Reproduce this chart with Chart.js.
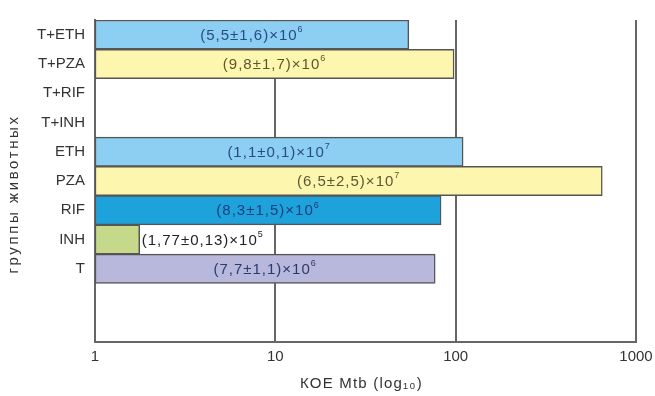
<!DOCTYPE html>
<html lang="ru">
<head>
  <meta charset="UTF-8">
  <title>КОЕ Mtb по группам животных</title>
  <script src="https://cdn.jsdelivr.net/npm/chart.js@4.4.0/dist/chart.umd.min.js"></script>
  <style>
    html, body { margin: 0; padding: 0; background: #fff; }
    #wrap { width: 655px; height: 396px; }
  </style>
</head>
<body>
  <div id="wrap"><canvas id="chart"></canvas></div>
  <script>
    // rows top to bottom; last two rows are empty in the original
    const groups = ['T+ETH', 'T+PZA', 'T+RIF', 'T+INH', 'ETH', 'PZA', 'RIF', 'INH', 'T', '', ''];
    // КОЕ / 10^5, bar length on log axis
    const cfu = [55, 98, null, null, 110, 650, 83, 1.77, 77, null, null];
    const labelBase = ['(5,5±1,6)×10', '(9,8±1,7)×10', '', '', '(1,1±0,1)×10', '(6,5±2,5)×10',
                       '(8,3±1,5)×10', '(1,77±0,13)×10', '(7,7±1,1)×10', '', ''];
    const labelExp = ['6', '6', '', '', '7', '7', '6', '5', '6', '', ''];
    const xTicks = [1, 10, 100, 1000];

    const barColors = ['#8ccff2', '#fdf6ae', '#fff', '#fff', '#8ccff2', '#fdf6ae',
                       '#1ea2dc', '#c6d98a', '#b8b7dc', '#fff', '#fff'];
    const textColors = ['#2c4a84', '#5a5830', '', '', '#2c4a84', '#5a5830',
                        '#1f3d7c', '#222', '#2b3a6a', '', ''];

    const FONT = '"Liberation Sans", Arial, sans-serif';

    // labels inside the bars, with the exponent set as a superscript
    const barLabels = {
      id: 'barLabels',
      afterDatasetsDraw(chart) {
        const ctx = chart.ctx;
        const meta = chart.getDatasetMeta(0);
        ctx.save();
        ctx.textBaseline = 'middle';
        ctx.letterSpacing = '1px';
        meta.data.forEach((bar, i) => {
          if (!labelBase[i]) return;
          ctx.font = '15px ' + FONT;
          const w1 = ctx.measureText(labelBase[i]).width;
          ctx.font = '9px ' + FONT;
          const w2 = ctx.measureText(labelExp[i]).width;
          const total = w1 + w2;
          let x;
          if (bar.x - bar.base > total + 10) {
            x = (bar.base + bar.x) / 2 - total / 2;
          } else {
            x = bar.x + 2;
          }
          ctx.textAlign = 'left';
          ctx.fillStyle = textColors[i];
          ctx.font = '15px ' + FONT;
          ctx.fillText(labelBase[i], x, bar.y + 1);
          ctx.font = '9px ' + FONT;
          ctx.fillText(labelExp[i], x + w1, bar.y - 5);
        });
        ctx.restore();
      }
    };

    // axis titles, drawn by hand for their wide letter spacing
    const axisTitles = {
      id: 'axisTitles',
      afterDraw(chart) {
        const ctx = chart.ctx;
        const area = chart.chartArea;
        ctx.save();
        ctx.font = '15px ' + FONT;
        ctx.fillStyle = '#333';
        ctx.textAlign = 'center';
        ctx.textBaseline = 'middle';
        ctx.letterSpacing = '1.2px';
        ctx.fillText('КОЕ Mtb (log₁₀)', (area.left + area.right) / 2 - 4, 384);
        ctx.translate(14, 194);
        ctx.rotate(-Math.PI / 2);
        ctx.letterSpacing = '2.6px';
        ctx.fillText('группы животных', 0, 0);
        ctx.restore();
      }
    };

    new Chart(document.getElementById('chart'), {
      type: 'bar',
      data: {
        labels: groups,
        datasets: [{
          data: cfu,
          backgroundColor: barColors,
          borderColor: '#555',
          borderWidth: 1.5,
          borderSkipped: false,
          barPercentage: 1,
          categoryPercentage: 1
        }]
      },
      options: {
        indexAxis: 'y',
        responsive: true,
        maintainAspectRatio: false,
        animation: false,
        layout: { padding: { top: 20, right: 19, left: 0, bottom: 0 } },
        plugins: { legend: { display: false }, tooltip: { enabled: false } },
        scales: {
          x: {
            type: 'logarithmic',
            min: 1,
            max: 1000,
            afterBuildTicks: s => { s.ticks = xTicks.map(v => ({ value: v })); },
            afterFit: s => { s.height = 54; s.paddingLeft = 0; s.paddingRight = 0; },
            grid: { color: '#666', lineWidth: 2, drawTicks: false },
            border: { display: true, color: '#666', width: 2 },
            ticks: {
              padding: 6,
              color: '#333',
              font: { family: FONT, size: 15 },
              callback: v => String(v),
              autoSkip: false,
              maxRotation: 0
            }
          },
          y: {
            afterFit: s => { s.width = 95; s.paddingTop = 0; s.paddingBottom = 0; },
            grid: { display: false, drawTicks: false },
            border: { display: true, color: '#666', width: 2 },
            ticks: {
              padding: 10,
              color: '#333',
              font: { family: FONT, size: 15 }
            }
          }
        }
      },
      plugins: [barLabels, axisTitles]
    });
  </script>
</body>
</html>
